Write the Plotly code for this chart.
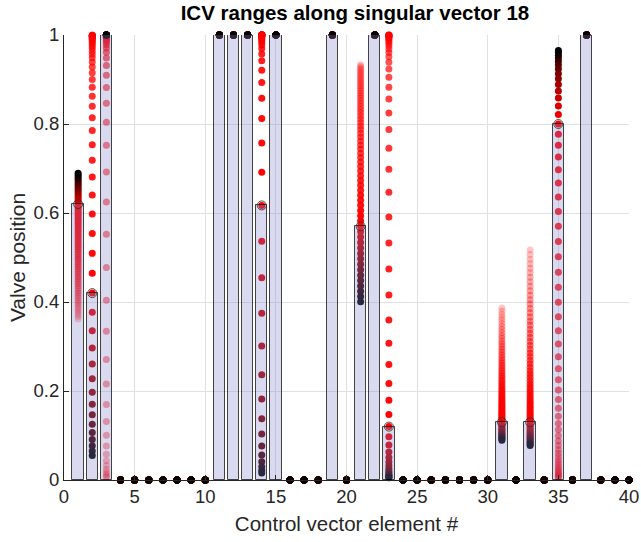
import numpy as np
import plotly.graph_objects as go

# ---- data ----
element = list(range(1, 41))
# valve position of the current solution (bars / open circles)
base_position = [0.62, 0.42, 1.0, 0, 0, 0, 0, 0, 0, 0,
                 1.0, 1.0, 1.0, 0.617, 1.0, 0, 0, 0, 1.0, 0,
                 0.57, 1.0, 0.12, 0, 0, 0, 0, 0, 0, 0,
                 0.13, 0, 0.13, 0, 0.80, 0, 1.0, 0, 0, 0]
# singular-vector component (shift in logit space per sweep step)
sv_component = [0.022, -0.18, 0.30, 0, 0, 0, 0, 0, 0, 0,
                0, 0, 0, -0.33, 0, 0, 0, 0, 0, 0,
                -0.049, 0, -0.236, 0, 0, 0, 0, 0, 0, 0,
                -0.030, 0, -0.041, 0, 0.138, 0, 0, 0, 0, 0]
# sweep steps along the singular vector (negative side fades, positive side darkens)
sweep_steps = list(range(-48, 15))
x_ticks = [0, 5, 10, 15, 20, 25, 30, 35, 40]
y_ticks = [0, 0.2, 0.4, 0.6, 0.8, 1.0]

FONT = "Liberation Sans, Arial, Helvetica, sans-serif"

b = np.clip(np.array(base_position, dtype=float), 1e-4, 1 - 1e-4)
base_logit = np.log(b / (1 - b))
v = np.array(sv_component, dtype=float)
kmin, kmax = min(sweep_steps), max(sweep_steps)

xs, ys, cols = [], [], []
for k in sweep_steps:
    if k < 0:
        frac = k / kmin
        col = "rgba(255,0,0,%.3f)" % (1 - 0.78 * frac)
    else:
        shade = 1 - k / kmax
        col = "rgb(%d,0,0)" % round(255 * shade)
    pos = 1 / (1 + np.exp(-(base_logit + k * v)))
    for e, p in zip(element, pos):
        xs.append(e)
        ys.append(float(p))
        cols.append(col)

fig = go.Figure()
fig.add_trace(go.Scatter(
    x=xs, y=ys, mode="markers", cliponaxis=False, hoverinfo="skip",
    marker=dict(size=7, color=cols, line=dict(width=0)), showlegend=False))

bar_x = [e for e, p in zip(element, base_position) if p > 0]
bar_y = [p for p in base_position if p > 0]
fig.add_trace(go.Bar(
    x=bar_x, y=bar_y, width=0.8, xaxis="x2", yaxis="y2",
    marker=dict(color="rgba(128,128,204,0.3)",
                line=dict(color="rgba(0,0,0,0.72)", width=1)),
    showlegend=False, hoverinfo="skip"))

circ_x = [e for e, p in zip(element, base_position) if 0 < p < 1]
circ_y = [p for p in base_position if 0 < p < 1]
fig.add_trace(go.Scatter(
    x=circ_x, y=circ_y, mode="markers", xaxis="x2", yaxis="y2", cliponaxis=False,
    marker=dict(symbol="circle-open", size=9, color="rgba(50,50,50,0.85)",
                line=dict(width=1)),
    showlegend=False, hoverinfo="skip"))

axis_common = dict(showgrid=True, gridcolor="#e1e1e1", gridwidth=1,
                   showline=True, linecolor="#262626", linewidth=1,
                   ticks="inside", ticklen=5, tickcolor="#262626",
                   zeroline=False, mirror=False, automargin=False,
                   tickfont=dict(family=FONT, size=18.5, color="#262626"))

fig.update_layout(
    width=641, height=542,
    margin=dict(l=64, r=12, t=35, b=62),
    paper_bgcolor="white", plot_bgcolor="white",
    bargap=0,
    title=dict(text="<b>ICV ranges along singular vector 18</b>",
               x=0.515, xref="paper", xanchor="center",
               y=1 - 13 / 542, yref="container", yanchor="middle",
               font=dict(family=FONT, size=20.5, color="#000000")),
    xaxis=dict(range=[0, 40], tickvals=x_ticks,
               title=dict(text="Control vector element #",
                          font=dict(family=FONT, size=20.5, color="#262626"), standoff=10),
               **axis_common),
    yaxis=dict(range=[0, 1], tickvals=y_ticks,
               title=dict(text="Valve position",
                          font=dict(family=FONT, size=21, color="#262626"), standoff=2),
               **axis_common),
    xaxis2=dict(range=[0, 40], overlaying="x", visible=False, anchor="y2"),
    yaxis2=dict(range=[0, 1], overlaying="y", visible=False, anchor="x2"),
)

fig.write_html("out.html",
               config={"displayModeBar": False},
               post_script="document.body.style.margin='0';document.body.style.overflow='hidden';")
